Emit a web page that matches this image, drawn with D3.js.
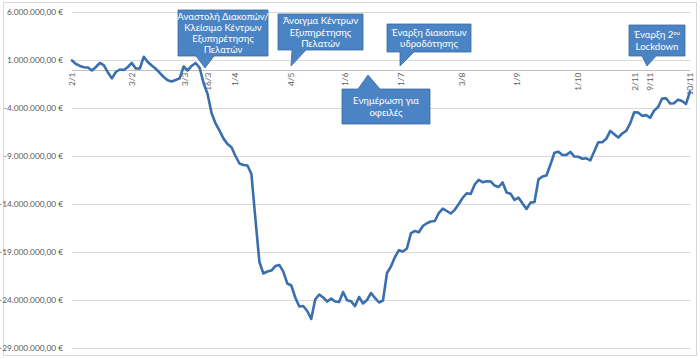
<!DOCTYPE html>
<html><head><meta charset="utf-8">
<script src="https://cdn.jsdelivr.net/npm/d3@7"></script>
<style>html,body{margin:0;padding:0;background:#fff;}svg{display:block;}</style>
</head><body>
<svg id="chart" width="700" height="358"></svg>
<script>
// Balance series (millions €), one point per sampled trading day, 2/1 .. 10/11
const balanceM = [
 0.95,0.58,0.38,0.25,0.22,-0.09,0.27,0.69,0.43,-0.30,
 -0.91,-0.25,0.01,-0.04,0.27,0.69,0.11,0.11,1.34,0.79,
 0.43,0.09,-0.33,-0.77,-1.11,-1.24,-1.08,-0.91,0.32,-0.09,
 0.38,0.69,0.19,-1.40,-2.54,-4.52,-5.61,-6.36,-7.19,-7.75,
 -8.08,-9.00,-9.78,-9.94,-9.99,-10.88,-15.56,-20.04,-21.24,-21.03,
 -20.93,-20.46,-20.35,-21.05,-22.28,-22.49,-23.74,-24.68,-24.63,-25.15,
 -25.98,-23.95,-23.43,-23.74,-24.16,-23.86,-24.16,-24.21,-23.17,-24.03,
 -24.14,-24.63,-23.69,-24.36,-24.00,-23.27,-23.79,-24.26,-24.05,-21.19,
 -20.51,-19.52,-18.81,-18.95,-18.64,-17.05,-16.81,-16.94,-16.29,-16.01,
 -15.82,-15.77,-14.94,-14.48,-14.73,-14.99,-14.61,-14.00,-13.35,-12.88,
 -12.96,-11.97,-11.48,-11.73,-11.63,-11.65,-12.08,-12.23,-11.76,-12.80,
 -12.93,-13.58,-13.34,-13.95,-14.52,-13.86,-13.79,-11.43,-11.14,-11.03,
 -9.89,-8.66,-8.55,-8.90,-8.88,-8.58,-9.06,-9.08,-9.29,-9.24,
 -9.45,-8.51,-7.56,-7.56,-7.21,-6.39,-6.74,-7.08,-6.66,-6.38,
 -5.60,-4.44,-4.47,-4.82,-4.74,-5.02,-4.27,-3.89,-3.02,-2.98,
 -3.53,-3.51,-3.13,-3.27,-3.58,-2.30
];
const values = balanceM.map(v => v * 1e6);

// Category tick labels and the sample index where each one sits
const xTickLabels = ["2/1","3/2","3/3","16/3","1/4","4/5","1/6","1/7","3/8","1/9","1/10","2/11","9/11","10/11"];
const xTickIndex  = [0,15,28.3,34,41,55,68.5,82.4,97.8,111.6,127,141.3,145,155];

// Value-axis ticks
const yTicks = [6e6, 1e6, -4e6, -9e6, -14e6, -19e6, -24e6, -29e6];

// Annotation texts
const calloutTexts = [
  ["Αναστολή Διακοπών/","Κλείσιμο Κέντρων","Εξυπηρέτησης","Πελατών"],
  ["Άνοιγμα Κέντρων","Εξυπηρέτησης","Πελατών"],
  ["Έναρξη διακοπων","υδροδότησης"],
  ["Ενημέρωση για","οφειλές"],
  ["Έναρξη 2|ου","Lockdown"]
];

// ---------- layout (pixels) ----------
const layout = {
  plot: {left: 72, right: 690, top: 12, bottom: 348},
  callouts: [
    {box:[178,10,268,56], base:[196,214], tip:[205,68]},
    {box:[278,14,363,50], base:[292,306], tip:[291,66]},
    {box:[387,24,471,52], base:[400,414], tip:[400,66]},
    {box:[342,89,430,124], base:[358,380], tip:[368,75], up:true},
    {box:[629,25,685,56], base:[642,656], tip:[647,66]}
  ]
};

const svg = d3.select("#chart");
const P = layout.plot;

const x = d3.scaleLinear().domain([0, values.length - 1]).range([P.left, P.right]);
const y = d3.scaleLinear().domain([-29e6, 6e6]).range([P.bottom, P.top]);

const loc = d3.formatLocale({decimal: ",", thousands: ".", grouping: [3], currency: ["", " €"], minus: "-"});
const fmt = loc.format(",.2f");

// chart border
svg.append("rect").attr("x", 3.5).attr("y", 2.5).attr("width", 693).attr("height", 353)
  .attr("fill", "#fff").attr("stroke", "#d9d9d9").attr("stroke-width", 1);

// gridlines
svg.append("g").selectAll("line").data(yTicks).join("line")
  .attr("x1", P.left).attr("x2", P.right)
  .attr("y1", d => Math.round(y(d)) + 0.5).attr("y2", d => Math.round(y(d)) + 0.5)
  .attr("stroke", "#d9d9d9").attr("stroke-width", 1);

// y labels
svg.append("g").selectAll("text").data(yTicks).join("text")
  .attr("x", 63).attr("y", d => y(d) + 3)
  .attr("text-anchor", "end")
  .attr("font-family", "Lato, 'Liberation Sans', sans-serif")
  .attr("font-size", 8.3).attr("fill", "#595959")
  .text(d => fmt(d) + " €");

// category axis at zero
svg.append("line").attr("x1", P.left).attr("x2", P.right)
  .attr("y1", Math.round(y(0)) + 0.5).attr("y2", Math.round(y(0)) + 0.5)
  .attr("stroke", "#bfbfbf").attr("stroke-width", 1);

// x labels (rotated)
svg.append("g").selectAll("text").data(xTickLabels).join("text")
  .attr("transform", (d, i) => `translate(${x(xTickIndex[i]) + 3},${y(0) + 3}) rotate(-90)`)
  .attr("text-anchor", "end")
  .attr("font-family", "Lato, 'Liberation Sans', sans-serif")
  .attr("font-size", 8.3).attr("fill", "#595959")
  .text(d => d);

// line
const line = d3.line().x((d, i) => x(i)).y(d => y(d)).curve(d3.curveLinear);
svg.append("path").datum(values)
  .attr("d", line).attr("fill", "none")
  .attr("stroke", "#3a6fae").attr("stroke-width", 2.6)
  .attr("stroke-linejoin", "round").attr("stroke-linecap", "round");

// callouts
const cg = svg.append("g");
layout.callouts.forEach((c, k) => {
  const [x0, y0, x1, y1] = c.box;
  const [b0, b1] = c.base;
  const [tx, ty] = c.tip;
  let pts;
  if (!c.up) {
    pts = [[x0,y0],[x1,y0],[x1,y1],[b1,y1],[tx,ty],[b0,y1],[x0,y1]];
  } else {
    pts = [[x0,y0],[b0,y0],[tx,ty],[b1,y0],[x1,y0],[x1,y1],[x0,y1]];
  }
  cg.append("path").attr("d", "M" + pts.map(p => p.join(",")).join("L") + "Z")
    .attr("fill", "#4a84c4").attr("stroke", "#3b6a9e").attr("stroke-width", 0.8);
  const lines = calloutTexts[k];
  const lh = 11.3;
  const cx = (x0 + x1) / 2;
  const cy = (y0 + y1) / 2;
  const startY = cy - (lines.length - 1) * lh / 2 + 3.5;
  lines.forEach((t, j) => {
    const txt = cg.append("text").attr("x", cx).attr("y", startY + j * lh)
      .attr("text-anchor", "middle")
      .attr("font-family", "Lato, 'Noto Sans', sans-serif")
      .attr("font-size", 9.6).attr("fill", "#ffffff");
    if (t.includes("|")) {
      const [a, b] = t.split("|");
      txt.append("tspan").text(a);
      txt.append("tspan").attr("font-size", 6).attr("dy", -3.5).text(b);
    } else {
      txt.text(t);
    }
  });
});
</script>
</body></html>
